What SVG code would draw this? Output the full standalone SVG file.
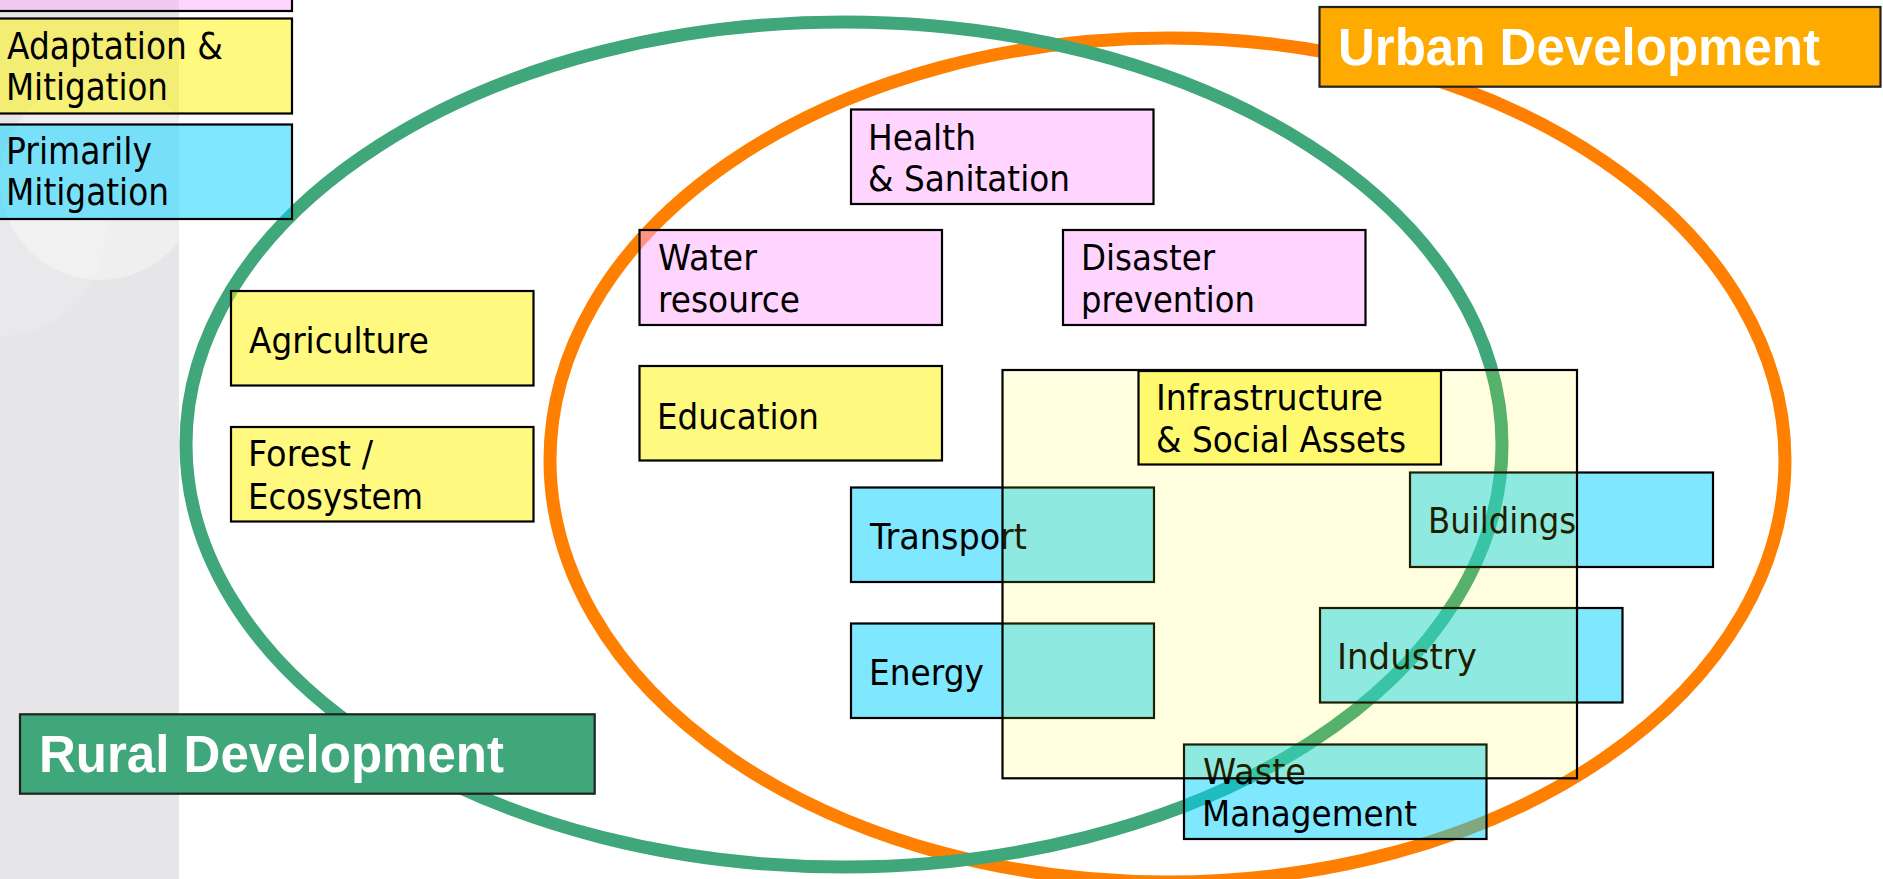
<svg xmlns="http://www.w3.org/2000/svg" width="1883" height="879" viewBox="0 0 1883 879">
<defs>
<style>
.t{font-family:"DejaVu Sans","Liberation Sans",sans-serif;font-size:36px;fill:#000}
.lg{font-size:38px}
.lab{font-family:"Liberation Sans","DejaVu Sans",sans-serif;font-size:51px;font-weight:bold;fill:#fff}
.bx{stroke:#000;stroke-width:2.2}
.pink{fill:#FFACFF;fill-opacity:0.5}
.yel{fill:#FFF400;fill-opacity:0.5}
.cyan{fill:#00D2FF;fill-opacity:0.5}
.ring{fill:none;stroke-width:13}
</style>
<clipPath id="strip"><rect x="0" y="0" width="179" height="879"/></clipPath>
</defs>
<rect x="0" y="0" width="1883" height="879" fill="#fff"/>
<g id="sidebar">
<rect x="0" y="0" width="179" height="879" fill="#E6E6E8"/>
<g clip-path="url(#strip)">
<circle cx="100" cy="180" r="100" fill="#fff" fill-opacity="0.35"/>
<circle cx="0" cy="230" r="106" fill="#fff" fill-opacity="0.15"/>
</g>
</g>
<g id="regions">
<ellipse id="urban-ring" class="ring" cx="1167.5" cy="460" rx="617.5" ry="422" stroke="#FF7F00"/>
<ellipse id="rural-ring" class="ring" cx="844" cy="444.5" rx="658" ry="422.5" stroke="#3FA77A"/>
</g>
<g id="legend">
<g id="legend-adaptation"><rect class="bx pink" x="-5" y="-20" width="297" height="31"/></g>
<g id="legend-both"><rect class="bx yel" x="-5" y="18.5" width="297" height="95"/>
<text class="t lg" x="7" y="58.5" textLength="216" lengthAdjust="spacingAndGlyphs">Adaptation &amp;</text>
<text class="t lg" x="6" y="100" textLength="162" lengthAdjust="spacingAndGlyphs">Mitigation</text></g>
<g id="legend-mitigation"><rect class="bx cyan" x="-5" y="124.5" width="297" height="94.5"/>
<text class="t lg" x="6" y="163.5" textLength="146" lengthAdjust="spacingAndGlyphs">Primarily</text>
<text class="t lg" x="6" y="205" textLength="163" lengthAdjust="spacingAndGlyphs">Mitigation</text></g>
</g>
<g id="health"><rect class="bx pink" x="851" y="109.5" width="302.5" height="94.5"/>
<text class="t" x="868" y="149.5" textLength="108" lengthAdjust="spacingAndGlyphs">Health</text>
<text class="t" x="868" y="190.5" textLength="202" lengthAdjust="spacingAndGlyphs">&amp; Sanitation</text></g>
<g id="water"><rect class="bx pink" x="639.5" y="230" width="302.5" height="95"/>
<text class="t" x="658" y="269.5" textLength="99" lengthAdjust="spacingAndGlyphs">Water</text>
<text class="t" x="658" y="311.5" textLength="142" lengthAdjust="spacingAndGlyphs">resource</text></g>
<g id="disaster"><rect class="bx pink" x="1063" y="230" width="302.5" height="95"/>
<text class="t" x="1081" y="269.5" textLength="134" lengthAdjust="spacingAndGlyphs">Disaster</text>
<text class="t" x="1081" y="311.5" textLength="174" lengthAdjust="spacingAndGlyphs">prevention</text></g>
<g id="education"><rect class="bx yel" x="639.5" y="366" width="302.5" height="94.5"/>
<text class="t" x="657" y="428.5" textLength="162" lengthAdjust="spacingAndGlyphs">Education</text></g>
<g id="agriculture"><rect class="bx yel" x="231" y="291" width="302.5" height="94.5"/>
<text class="t" x="249" y="352.5" textLength="180" lengthAdjust="spacingAndGlyphs">Agriculture</text></g>
<g id="forest"><rect class="bx yel" x="231" y="427" width="302.5" height="94.5"/>
<text class="t" x="248" y="466" textLength="125" lengthAdjust="spacingAndGlyphs">Forest /</text>
<text class="t" x="248" y="508.5" textLength="175" lengthAdjust="spacingAndGlyphs">Ecosystem</text></g>
<g id="transport"><rect class="bx cyan" x="851" y="487.5" width="303" height="94.5"/>
<text class="t" x="870" y="548.5" textLength="157" lengthAdjust="spacingAndGlyphs">Transport</text></g>
<g id="energy"><rect class="bx cyan" x="851" y="623.5" width="303" height="94.5"/>
<text class="t" x="869" y="685" textLength="115" lengthAdjust="spacingAndGlyphs">Energy</text></g>
<g id="buildings"><rect class="bx cyan" x="1410" y="472.5" width="303" height="94.5"/>
<text class="t" x="1428" y="532.5" textLength="148" lengthAdjust="spacingAndGlyphs">Buildings</text></g>
<g id="industry"><rect class="bx cyan" x="1320" y="608" width="302.5" height="94.5"/>
<text class="t" x="1337" y="668.5" textLength="140" lengthAdjust="spacingAndGlyphs">Industry</text></g>
<g id="waste"><rect class="bx cyan" x="1184" y="744.5" width="302.5" height="94.5"/>
<text class="t" x="1203" y="783.5" textLength="103" lengthAdjust="spacingAndGlyphs">Waste</text>
<text class="t" x="1202" y="826" textLength="215" lengthAdjust="spacingAndGlyphs">Management</text></g>
<g id="infrastructure-area"><rect x="1002.5" y="370" width="574.5" height="408.3" fill="#FFFF00" fill-opacity="0.12" stroke="#000" stroke-width="2.2"/></g>
<g id="infrastructure"><rect class="bx yel" x="1138.5" y="371" width="302.5" height="93.5"/>
<text class="t" x="1156" y="410" textLength="227" lengthAdjust="spacingAndGlyphs">Infrastructure</text>
<text class="t" x="1156" y="451.5" textLength="250" lengthAdjust="spacingAndGlyphs">&amp; Social Assets</text></g>
<g id="urban-label"><rect x="1319.5" y="7" width="561" height="79.7" fill="#FFAA00" stroke="#222" stroke-width="2.2"/>
<text class="lab" x="1338" y="65" textLength="482" lengthAdjust="spacingAndGlyphs">Urban Development</text></g>
<g id="rural-label"><rect x="20" y="714.3" width="574.7" height="79.4" fill="#3FA77A" stroke="#222" stroke-width="2.2"/>
<text class="lab" x="39" y="772.3" textLength="465" lengthAdjust="spacingAndGlyphs">Rural Development</text></g>
</svg>
